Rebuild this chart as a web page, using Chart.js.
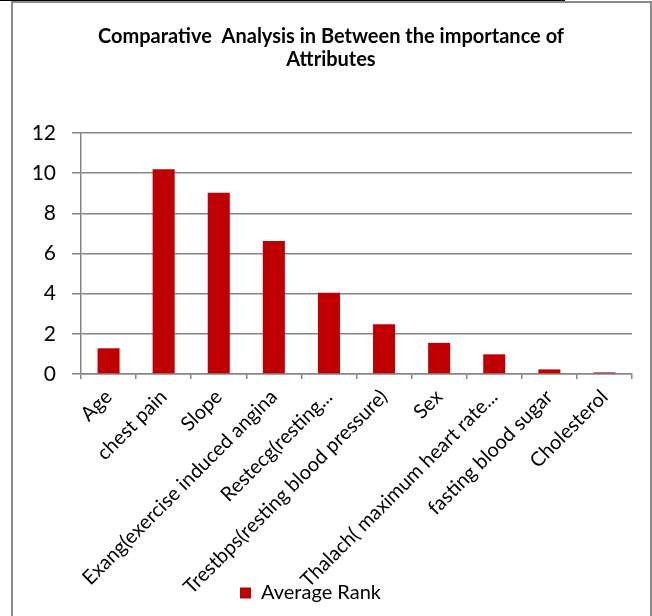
<!DOCTYPE html>
<html>
<head>
<meta charset="utf-8">
<script src="https://cdn.jsdelivr.net/npm/chart.js@4.4.1/dist/chart.umd.min.js"></script>
<style>
  html, body { margin: 0; padding: 0; background: #fff; }
  #wrap { width: 652px; height: 616px; position: relative; }
</style>
</head>
<body>
<div id="wrap"><canvas id="c" width="652" height="616"></canvas></div>
<script>
// Attribute names shown along the category axis
const attributes = [
  "Age",
  "chest pain",
  "Slope",
  "Exang(exercise induced angina",
  "Restecg(resting...",
  "Trestbps(resting blood pressure)",
  "Sex",
  "Thalach( maximum heart rate...",
  "fasting blood sugar",
  "Cholesterol"
];

// Average rank of each attribute
const averageRank = [1.28, 10.2, 9.02, 6.62, 4.05, 2.48, 1.55, 0.98, 0.23, 0.08];

// Value axis ticks
const rankTicks = [0, 2, 4, 6, 8, 10, 12];

const seriesName = "Average Rank";
const titleLines = ["Comparative  Analysis in Between the importance of", "Attributes"];

const FONT = "Lato, 'Open Sans', 'DejaVu Sans', sans-serif";
const GRID = "#868686";
const BAR = "#C00000";

// Outer frame of the chart object
const framePlugin = {
  id: "frame",
  beforeDraw(chart) {
    const ctx = chart.ctx;
    ctx.save();
    ctx.fillStyle = "#ffffff";
    ctx.fillRect(0, 0, chart.width, chart.height);
    ctx.fillStyle = "#000000";
    ctx.fillRect(0, 0, 565, 1);
    ctx.strokeStyle = "#8a8a8a";
    ctx.lineWidth = 2;
    ctx.beginPath();
    ctx.moveTo(12, chart.height + 2);
    ctx.lineTo(12, 2);
    ctx.lineTo(651, 2);
    ctx.lineTo(651, chart.height + 2);
    ctx.stroke();
    ctx.restore();
  }
};

// Title spans the whole frame; the legend starts under the middle of the
// label block; long category labels may run down beside the legend
const placementPlugin = {
  id: "placement",
  afterLayout(chart) {
    if (chart.titleBlock) {
      chart.titleBlock.left = 12;
      chart.titleBlock.right = 650;
      chart.titleBlock.width = 638;
    }
    if (chart.legend) {
      const w = chart.legend.right - 234;
      chart.legend.left = 234;
      chart.legend.width = w;
    }
    const x = chart.scales.x;
    if (x) {
      x.bottom = chart.height;
      x._labelItems = null;
    }
  }
};

new Chart(document.getElementById("c"), {
  type: "bar",
  data: {
    labels: attributes,
    datasets: [{
      label: seriesName,
      data: averageRank,
      backgroundColor: BAR,
      borderWidth: 0,
      barPercentage: 0.4,
      categoryPercentage: 1.0
    }]
  },
  options: {
    responsive: false,
    animation: false,
    events: [],
    layout: { padding: { left: 13, right: 20, top: 0, bottom: 3 } },
    plugins: {
      title: {
        display: true,
        text: titleLines,
        color: "#000",
        font: { family: FONT, size: 20, weight: "bold", lineHeight: 1.15 },
        padding: { top: 25, bottom: 62 }
      },
      legend: {
        display: true,
        position: "bottom",
        align: "start",
        labels: {
          color: "#000",
          font: { family: FONT, size: 20 },
          boxWidth: 11,
          boxHeight: 11,
          padding: 6
        }
      },
      tooltip: { enabled: false }
    },
    scales: {
      x: {
        offset: true,
        grid: {
          display: true,
          offset: true,
          drawOnChartArea: false,
          drawTicks: true,
          tickLength: 5,
          color: GRID,
          lineWidth: 1.5
        },
        border: { display: true, color: GRID, width: 1.5 },
        ticks: {
          autoSkip: false,
          minRotation: 45,
          maxRotation: 45,
          color: "#000",
          padding: 6,
          font: { family: FONT, size: 20 }
        },
        afterFit(scale) { scale.height = 203; }
      },
      y: {
        min: 0,
        max: 12,
        afterBuildTicks(scale) {
          scale.ticks = rankTicks.map(v => ({ value: v }));
        },
        grid: {
          color: GRID,
          lineWidth: 1.5,
          drawTicks: true,
          tickLength: 9
        },
        border: { display: true, color: GRID, width: 1.5 },
        ticks: {
          color: "#000",
          padding: 16,
          font: { family: FONT, size: 21 }
        },
        afterFit(scale) { scale.width = 68; }
      }
    }
  },
  plugins: [framePlugin, placementPlugin]
});
</script>
</body>
</html>
